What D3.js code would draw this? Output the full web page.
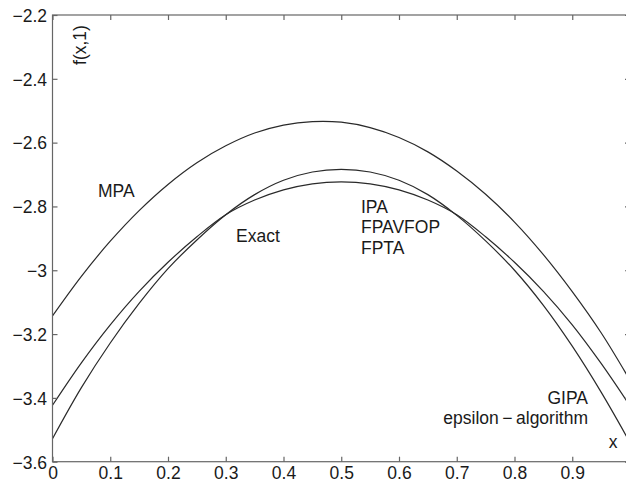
<!DOCTYPE html>
<html><head><meta charset="utf-8">
<script src="https://cdn.jsdelivr.net/npm/d3@7"></script>
<style>body{margin:0;background:#fff}svg{display:block}text{font-family:"Liberation Sans",Arial,sans-serif}</style>
</head><body><svg id="c" width="626" height="482"></svg>
<script>
const xs = [0,0.05,0.1,0.15,0.2,0.25,0.3,0.35,0.4,0.45,0.5,0.55,0.6,0.65,0.7,0.75,0.8,0.85,0.9,0.95,1.0];
const mpa   = [-3.143,-3.019,-2.909,-2.813,-2.731,-2.663,-2.610,-2.570,-2.545,-2.534,-2.536,-2.553,-2.584,-2.629,-2.689,-2.762,-2.849,-2.951,-3.067,-3.196,-3.345];
const exact = [-3.423,-3.290,-3.171,-3.066,-2.975,-2.895,-2.826,-2.780,-2.748,-2.729,-2.723,-2.729,-2.748,-2.780,-2.826,-2.895,-2.975,-3.066,-3.171,-3.292,-3.425];
const ipa   = [-3.528,-3.368,-3.228,-3.104,-2.995,-2.905,-2.826,-2.763,-2.718,-2.692,-2.684,-2.692,-2.718,-2.763,-2.828,-2.908,-3.000,-3.110,-3.238,-3.382,-3.540];
const xTicks = [0,0.1,0.2,0.3,0.4,0.5,0.6,0.7,0.8,0.9,1];
const xTickLabels = ["0","0.1","0.2","0.3","0.4","0.5","0.6","0.7","0.8","0.9",""];
const yTicks = [-2.2,-2.4,-2.6,-2.8,-3,-3.2,-3.4,-3.6];
const yTickLabels = ["\u22122.2","\u22122.4","\u22122.6","\u22122.8","\u22123","\u22123.2","\u22123.4","\u22123.6"];

const svg = d3.select("#c");
const L=52.5, R=630, T=15, B=461.7;
const x = d3.scaleLinear().domain([0,1]).range([L,R]);
const y = d3.scaleLinear().domain([-3.6,-2.2]).range([B,T]);
const axCol="#666", lnCol="#2a2a2a", fs="17.5px", txtCol="#1a1a1a";

const line = d3.line().x((d,i)=>x(xs[i])).y(d=>y(d)).curve(d3.curveCatmullRom.alpha(0.5));
[mpa,exact,ipa].forEach(s=>{
  svg.append("path").attr("d",line(s)).attr("fill","none").attr("stroke",lnCol).attr("stroke-width",1.2);
});

// frame
svg.append("rect").attr("x",L).attr("y",T).attr("width",R-L).attr("height",B-T)
  .attr("fill","none").attr("stroke",axCol).attr("stroke-width",1.2);

// axes with inward ticks
const fmtX = (d)=>xTickLabels[xTicks.indexOf(d)];
const fmtY = (d)=>yTickLabels[yTicks.indexOf(d)];
const gb = svg.append("g").attr("transform",`translate(0,${B})`)
  .call(d3.axisBottom(x).tickValues(xTicks).tickSize(-5).tickPadding(0).tickFormat(fmtX));
const gt = svg.append("g").attr("transform",`translate(0,${T})`)
  .call(d3.axisTop(x).tickValues(xTicks).tickSize(-5).tickFormat(""));
const gl = svg.append("g").attr("transform",`translate(${L},0)`)
  .call(d3.axisLeft(y).tickValues(yTicks).tickSize(-5).tickPadding(0).tickFormat(fmtY));
const gr = svg.append("g").attr("transform",`translate(${R},0)`)
  .call(d3.axisRight(y).tickValues(yTicks).tickSize(-5).tickFormat(""));
[gb,gt,gl,gr].forEach(g=>{
  g.select(".domain").remove();
  g.selectAll(".tick line").attr("stroke",axCol).attr("stroke-width",1.2);
  g.selectAll("text").attr("font-size",fs).attr("fill",txtCol).attr("font-family","Liberation Sans, Arial, sans-serif");
});
gb.selectAll(".tick text").attr("y",null).attr("dy",null).attr("transform","translate(0,17.5)");
gl.selectAll(".tick text").attr("x",-5.5).attr("dy","0.36em");

// labels
const lab=(t,px,py,anchor="start")=>svg.append("text").attr("x",px).attr("y",py).attr("text-anchor",anchor)
  .attr("font-size",fs).attr("fill",txtCol).text(t);
svg.append("text").attr("transform","translate(86,45) rotate(-90)").attr("text-anchor","middle")
  .attr("font-size",fs).attr("fill",txtCol).text("f(x,1)");
lab("MPA",98,197);
lab("Exact",236,242);
lab("IPA",361,213);
lab("FPAVFOP",361,233);
lab("FPTA",361,253.5);
lab("GIPA",588,404,"end");
lab("epsilon\u2009\u2212\u2009algorithm",588,423.5,"end");
lab("x",613,448,"middle");
</script></body></html>
